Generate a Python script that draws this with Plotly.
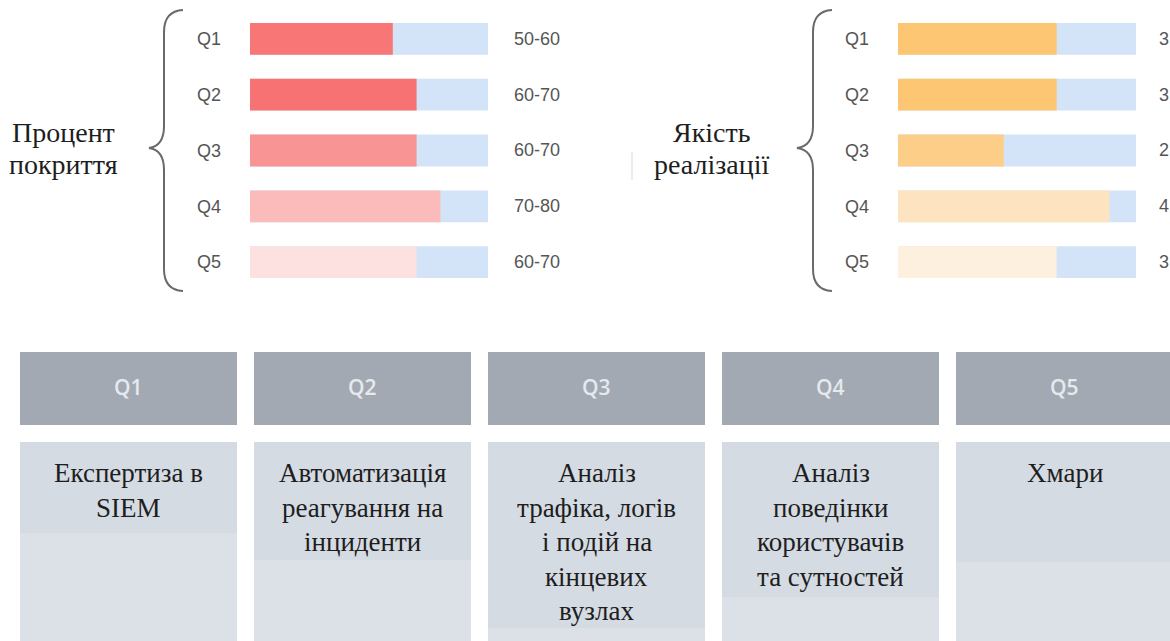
import plotly.graph_objects as go

# ---------------- data ----------------
quarters = ["Q1", "Q2", "Q3", "Q4", "Q5"]

coverage_title = ["Процент", "покриття"]
coverage_values = [60, 70, 70, 80, 70]          # upper bound of the band, %
coverage_labels = ["50-60", "60-70", "60-70", "70-80", "60-70"]
coverage_max = 100

quality_title = ["Якість", "реалізації"]
quality_values = [3, 3, 2, 4, 3]
quality_labels = ["3", "3", "2", "4", "3"]
quality_max = 4.5

topics = [
    ["Експертиза в", "SIEM"],
    ["Автоматизація", "реагування на", "інциденти"],
    ["Аналіз", "трафіка, логів", "і подій на", "кінцевих", "вузлах"],
    ["Аналіз", "поведінки", "користувачів", "та сутностей"],
    ["Хмари"],
]

# ---------------- styles / layout ----------------
W, H = 1170, 641
TRACK = "#D3E3F8"
RED = ["#F87676", "#F77373", "#F99494", "#FBBBBB", "#FDE0E0"]
ORANGE = ["#FCC673", "#FCC673", "#FDCE88", "#FDE3BF", "#FEF0DF"]
HEADER_C = "#A2A9B3"
BODY_C = "#DCE1E8"
BODY_BAND_C = "#D5DBE3"
LABEL_C = "#555555"
SANS = "Liberation Sans, Arial, sans-serif"
SERIF = "Liberation Serif, Times New Roman, serif"

HEADER_TOP, HEADER_H = 352, 73
BODY_TOP, BODY_BOTTOM = 442, 660
band_bottoms = [533, 560, 628, 597, 562]
PITCH, BOX_W, FIRST_C = 234, 217, 128.5
BODY_FIRST_LINE, BODY_LINE_GAP = 473, 34.5


def X(p):
    return p / W


def Y(p):
    return 1 - p / H


fig = go.Figure()

# ---- top-left panel: coverage ----
fig.add_trace(go.Bar(y=quarters, x=[coverage_max] * len(quarters), orientation="h",
                     marker=dict(color=TRACK, line=dict(width=0)),
                     xaxis="x", yaxis="y", hoverinfo="skip", showlegend=False))
fig.add_trace(go.Bar(y=quarters, x=coverage_values, orientation="h",
                     marker=dict(color=RED, line=dict(width=0)),
                     xaxis="x", yaxis="y", hoverinfo="skip", showlegend=False))

# ---- top-right panel: quality ----
fig.add_trace(go.Bar(y=quarters, x=[quality_max] * len(quarters), orientation="h",
                     marker=dict(color=TRACK, line=dict(width=0)),
                     xaxis="x2", yaxis="y2", hoverinfo="skip", showlegend=False))
fig.add_trace(go.Bar(y=quarters, x=quality_values, orientation="h",
                     marker=dict(color=ORANGE, line=dict(width=0)),
                     xaxis="x2", yaxis="y2", hoverinfo="skip", showlegend=False))

# ---- bottom table-like cells ----
n = len(quarters)
fig.add_trace(go.Bar(x=quarters, y=[HEADER_H] * n, base=[HEADER_TOP] * n, width=BOX_W / PITCH,
                     marker=dict(color=HEADER_C, line=dict(width=0)),
                     xaxis="x3", yaxis="y3", hoverinfo="skip", showlegend=False))
fig.add_trace(go.Bar(x=quarters, y=[BODY_BOTTOM - BODY_TOP] * n, base=[BODY_TOP] * n, width=BOX_W / PITCH,
                     marker=dict(color=BODY_C, line=dict(width=0)),
                     xaxis="x3", yaxis="y3", hoverinfo="skip", showlegend=False))
fig.add_trace(go.Bar(x=quarters, y=[b - BODY_TOP for b in band_bottoms], base=[BODY_TOP] * n,
                     width=BOX_W / PITCH,
                     marker=dict(color=BODY_BAND_C, line=dict(width=0)),
                     xaxis="x3", yaxis="y3", hoverinfo="skip", showlegend=False))

ann = []
for q, lab in zip(quarters, coverage_labels):
    ann.append(dict(xref="x", yref="y", x=coverage_max, y=q, text=lab, xanchor="left",
                    xshift=24, showarrow=False, font=dict(family=SANS, size=18, color=LABEL_C)))
for q, lab in zip(quarters, quality_labels):
    ann.append(dict(xref="x2", yref="y2", x=quality_max, y=q, text=lab, xanchor="left",
                    xshift=21, showarrow=False, font=dict(family=SANS, size=18, color=LABEL_C)))

# side titles
for cx, lines in ((63, coverage_title), (712, quality_title)):
    for i, t in enumerate(lines):
        ann.append(dict(xref="paper", yref="paper", x=X(cx), y=Y(132 + 32 * i), text=t,
                        xanchor="center", yanchor="middle", showarrow=False,
                        font=dict(family=SERIF, size=28, color="#1e1e1e")))

# table headers and bodies
for q, lines in zip(quarters, topics):
    ann.append(dict(xref="x3", yref="y3", x=q, y=387, text=q, xanchor="center", yanchor="middle",
                    showarrow=False, font=dict(family="Open Sans, sans-serif", size=21,
                                               color="#E6E9ED", weight=600)))
    for i, t in enumerate(lines):
        ann.append(dict(xref="x3", yref="y3", x=q, y=BODY_FIRST_LINE + BODY_LINE_GAP * i, text=t,
                        xanchor="center", yanchor="middle", showarrow=False,
                        font=dict(family=SERIF, size=27, color="#1e1e1e")))


def brace(x_end, x_line, x_tip, y_top, y_mid, y_bot, r=22):
    return (f"M {X(x_end)},{Y(y_top)} Q {X(x_line)},{Y(y_top + 1)} {X(x_line)},{Y(y_top + r)} "
            f"L {X(x_line)},{Y(y_mid - r)} Q {X(x_line)},{Y(y_mid - 2)} {X(x_tip)},{Y(y_mid)} "
            f"Q {X(x_line)},{Y(y_mid + 2)} {X(x_line)},{Y(y_mid + r)} "
            f"L {X(x_line)},{Y(y_bot - r)} Q {X(x_line)},{Y(y_bot - 1)} {X(x_end)},{Y(y_bot)}")


shapes = [
    dict(type="path", xref="paper", yref="paper", path=brace(183, 164, 149, 10, 148, 291),
         line=dict(color="#6a6a6a", width=2)),
    dict(type="path", xref="paper", yref="paper", path=brace(832, 813, 797, 10, 148, 291),
         line=dict(color="#6a6a6a", width=2)),
    dict(type="line", xref="paper", yref="paper", x0=X(632), x1=X(632), y0=Y(152), y1=Y(180),
         line=dict(color="#ececec", width=2)),
]

top_dom = [Y(290), Y(11)]
hidden = dict(showgrid=False, zeroline=False, showline=False, showticklabels=False, ticks="")
yq = dict(type="category", categoryorder="array", categoryarray=quarters, range=[4.5, -0.5],
          showgrid=False, zeroline=False, showline=False, ticks="", ticklabelstandoff=28,
          tickfont=dict(family=SANS, size=18, color=LABEL_C), domain=top_dom)

fig.update_layout(
    width=W, height=H, margin=dict(l=0, r=0, t=0, b=0),
    paper_bgcolor="white", plot_bgcolor="rgba(0,0,0,0)",
    barmode="overlay", bargap=0.43,
    xaxis=dict(domain=[X(250), X(488)], range=[0, coverage_max], anchor="y", **hidden),
    yaxis=dict(anchor="x", **yq),
    xaxis2=dict(domain=[X(898), X(1136)], range=[0, quality_max], anchor="y2", **hidden),
    yaxis2=dict(anchor="x2", **yq),
    xaxis3=dict(domain=[0, 1], type="category", categoryorder="array", categoryarray=quarters,
                range=[-FIRST_C / PITCH, (W - FIRST_C) / PITCH], anchor="y3", **hidden),
    yaxis3=dict(domain=[0, 1], range=[H, 0], anchor="x3", **hidden),
    annotations=ann, shapes=shapes,
)

fig.write_html("out.html", config={"displayModeBar": False},
               post_script="document.body.style.margin='0px';document.body.style.overflow='hidden';")
